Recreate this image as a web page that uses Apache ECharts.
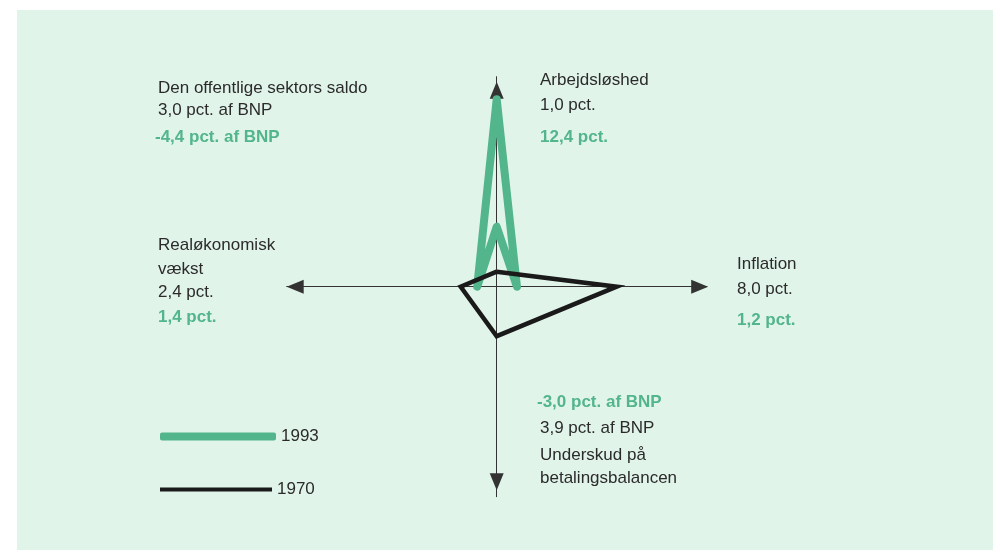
<!DOCTYPE html>
<html>
<head>
<meta charset="utf-8">
<script src="https://cdn.jsdelivr.net/npm/echarts@6/dist/echarts.min.js"></script>
<style>
  html, body { margin: 0; padding: 0; background: #fff; }
  #chart { width: 1000px; height: 556px; }
</style>
</head>
<body>
<div id="chart"></div>
<script>
// plotted distance along each axis (pct.)
// order: [1970, 1993]
var years = ['1970', '1993'];
var unemployment = [1.0, 12.5];     // up
var inflation = [8.0, 1.35];        // right
var currentAccount = [3.3, -4.0];   // down (negative = upwards)
var growth = [2.4, 1.3];            // left

// printed labels
var lblPublic = ['Den offentlige sektors saldo', '3,0 pct. af BNP', '-4,4 pct. af BNP'];
var lblUnemp = ['Arbejdsløshed', '1,0 pct.', '12,4 pct.'];
var lblGrowth = ['Realøkonomisk', 'vækst', '2,4 pct.', '1,4 pct.'];
var lblInfl = ['Inflation', '8,0 pct.', '1,2 pct.'];
var lblCurrent = ['-3,0 pct. af BNP', '3,9 pct. af BNP', 'Underskud på', 'betalingsbalancen'];

var GREEN = '#52b58b';
var DARK = '#2b2b2b';
var FONT = '"Liberation Sans", Arial, sans-serif';

function shape(i) {
  var pts = [
    [0, unemployment[i]],
    [inflation[i], 0],
    [0, -currentAccount[i]],
    [-growth[i], 0]
  ];
  pts.push(pts[0]);
  return pts;
}

function txt(x, y, s, green) {
  return {
    type: 'text', x: x, y: y, z: 10,
    style: {
      text: s,
      font: (green ? 'bold ' : '') + '17px ' + FONT,
      fill: green ? GREEN : DARK,
      verticalAlign: 'middle'
    }
  };
}

var texts = [
  txt(158, 88, lblPublic[0]), txt(158, 110, lblPublic[1]), txt(155, 137, lblPublic[2], true),
  txt(540, 80, lblUnemp[0]), txt(540, 105, lblUnemp[1]), txt(540, 137, lblUnemp[2], true),
  txt(158, 245, lblGrowth[0]), txt(158, 269, lblGrowth[1]), txt(158, 292, lblGrowth[2]), txt(158, 317, lblGrowth[3], true),
  txt(737, 264, lblInfl[0]), txt(737, 289, lblInfl[1]), txt(737, 320, lblInfl[2], true),
  txt(537, 402, lblCurrent[0], true), txt(540, 428, lblCurrent[1]), txt(540, 455, lblCurrent[2]), txt(540, 478, lblCurrent[3])
];

var chart = echarts.init(document.getElementById('chart'));
var axisCommon = {
  type: 'value', min: -14, max: 14,
  axisLabel: { show: false }, axisTick: { show: false }, splitLine: { show: false },
  axisLine: { onZero: true, lineStyle: { color: '#333', width: 1 }, symbol: ['triangle', 'triangle'], symbolSize: [14, 17] }
};
var option = {
  backgroundColor: '#fff',
  animation: false,
  graphic: [{
    type: 'rect', z: -10, shape: { x: 17, y: 10, width: 976, height: 540 },
    style: { fill: '#e1f4ea' }
  }].concat(texts),
  grid: { left: 286.7, top: 76.7, width: 420, height: 420 },
  xAxis: Object.assign({}, axisCommon, {
    axisLine: Object.assign({}, axisCommon.axisLine, { symbolOffset: [8.5, -7] })
  }),
  yAxis: Object.assign({}, axisCommon, {
    axisLine: Object.assign({}, axisCommon.axisLine, { symbolOffset: [15, -13.5] })
  }),
  legend: [
    { data: [years[1]], left: 155, top: 423, itemWidth: 116, itemHeight: 8, icon: 'roundRect',
      textStyle: { fontSize: 17, color: DARK, fontFamily: FONT } },
    { data: [years[0]], left: 155, top: 476, itemWidth: 112, itemHeight: 4, icon: 'rect',
      textStyle: { fontSize: 17, color: DARK, fontFamily: FONT } }
  ],
  series: [
    { name: years[1], type: 'line', data: shape(1), symbol: 'none', z: 3,
      itemStyle: { color: GREEN },
      lineStyle: { color: GREEN, width: 8, cap: 'round', join: 'round' } },
    { name: years[0], type: 'line', data: shape(0), symbol: 'none', z: 4,
      itemStyle: { color: '#1a1a1a' },
      lineStyle: { color: '#1a1a1a', width: 4.5, join: 'miter' } }
  ]
};
chart.setOption(option);
window.addEventListener('resize', function () { chart.resize(); });
</script>
</body>
</html>
